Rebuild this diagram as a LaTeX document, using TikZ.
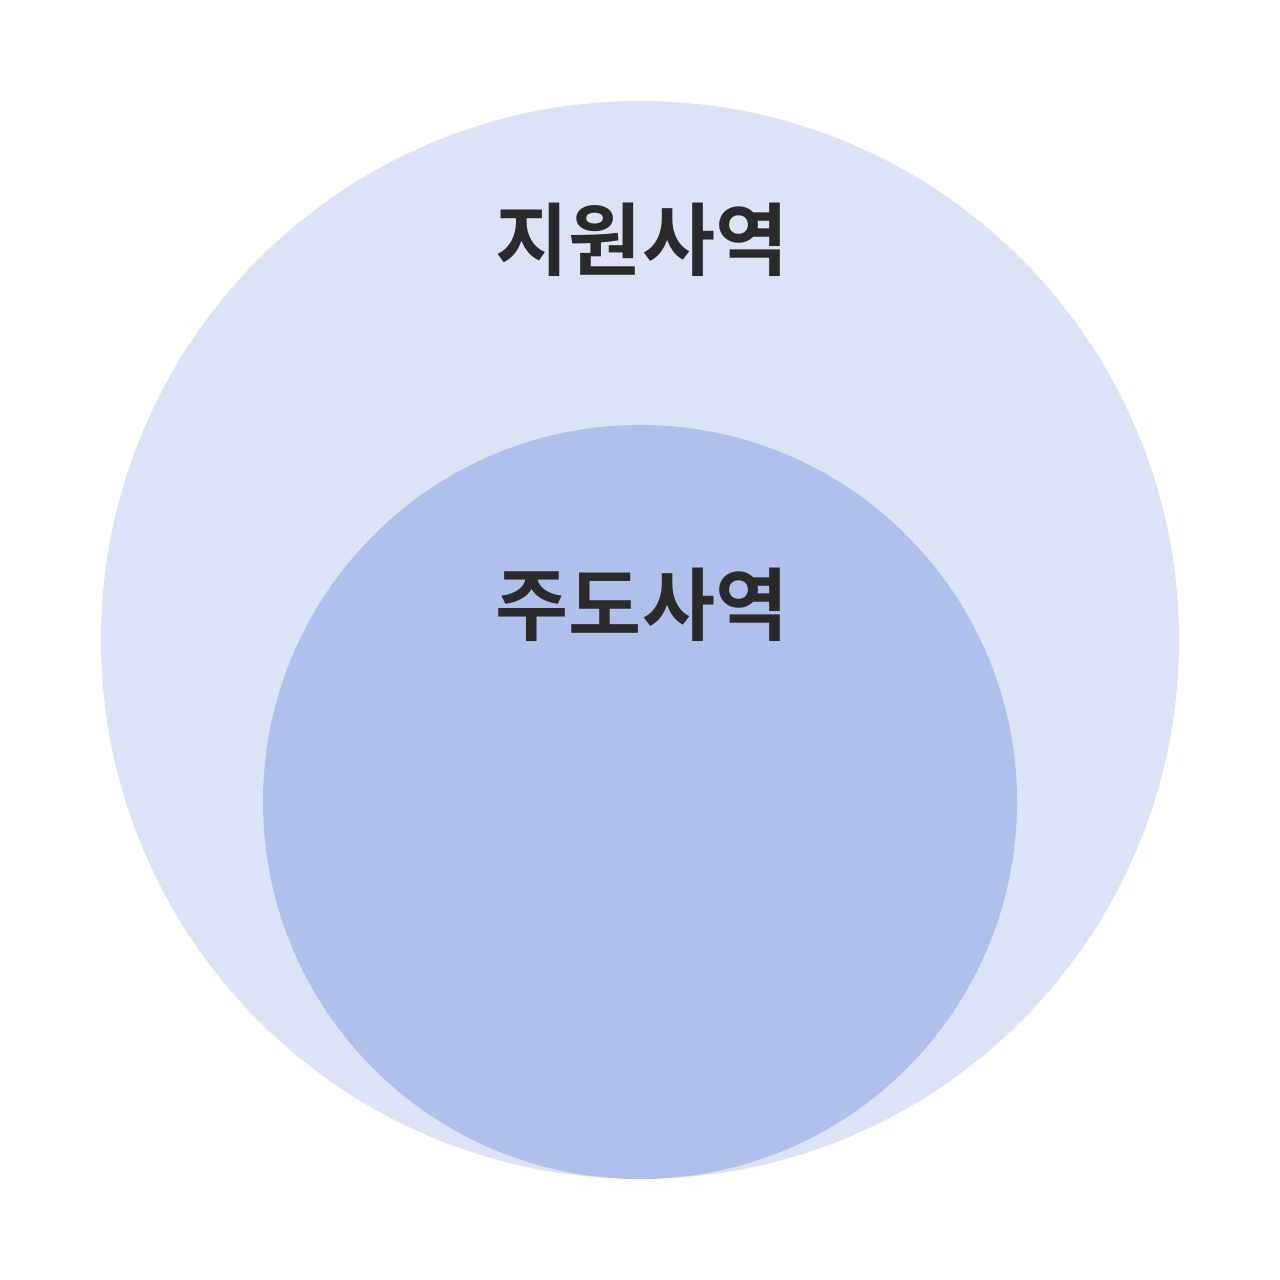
\documentclass[tikz,border=0pt]{standalone}
\usepackage{fontspec}
\newfontfamily\kofont{Noto Sans CJK KR Bold}
\usepackage{tikz}
\definecolor{outerblue}{HTML}{DCE3F6}
\definecolor{innerblue}{HTML}{AFC0EC}
\definecolor{labelgray}{HTML}{2A2A2A}

\begin{document}
\begin{tikzpicture}
\useasboundingbox (0,0) rectangle (12.8,12.8);
\fill[outerblue] (6.4,6.4) circle (5.39);
\fill[innerblue] (6.4,4.78) circle (3.77);
\node[text=labelgray, font=\kofont\fontsize{22.6}{27}\selectfont] (support) at (6.42,10.40) {지원사역};
\node[text=labelgray, font=\kofont\fontsize{22.6}{27}\selectfont] (lead) at (6.42,6.75) {주도사역};
\end{tikzpicture}
\end{document}
